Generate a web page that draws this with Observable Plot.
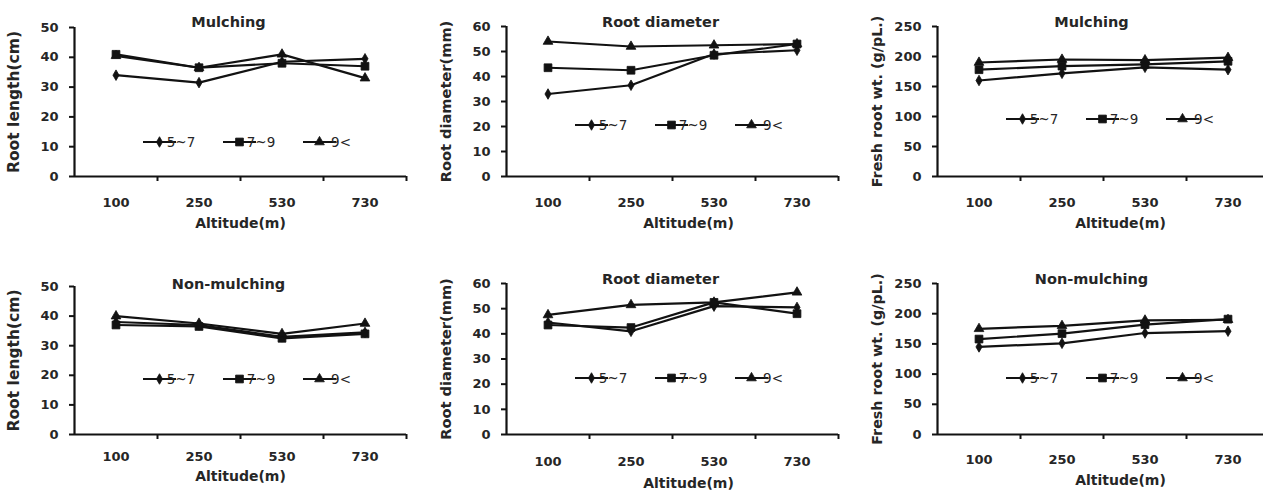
<!DOCTYPE html>
<html>
<head>
<meta charset="utf-8">
<script src="https://cdn.jsdelivr.net/npm/d3@7"></script>
<script src="https://cdn.jsdelivr.net/npm/@observablehq/plot@0.6"></script>
<style>
  html, body { margin: 0; padding: 0; background: #fff; }
  #figure { position: relative; width: 1263px; height: 493px; overflow: hidden; background: #fff; }
  .panel { position: absolute; width: 420px; }
  .panel svg { max-width: none !important; display: block; }
</style>
</head>
<body>
<div id="figure"></div>
<script>
// Altitude categories along every x axis
const altitudes = ["100", "250", "530", "730"];
// Root-size groups (legend entries) and their marker shapes
const groups = ["5~7", "7~9", "9<"];
const groupSymbols = ["diamond", "square", "triangle"];
const groupRadius = [3.2, 4.4, 3.6];

// Values per group, in the order of `groups`, one value per altitude
const rootLengthMulching = [
  [34, 31.5, 38.5, 39.5],
  [41, 36.5, 38, 37],
  [40.5, 36.5, 41, 33]
];
const rootDiameterMulching = [
  [33, 36.5, 49, 50.5],
  [43.5, 42.5, 48.5, 53],
  [54, 52, 52.5, 53]
];
const freshWeightMulching = [
  [160, 172, 182, 178],
  [178, 184, 187, 192],
  [190, 195, 194, 198]
];
const rootLengthNonMulching = [
  [38, 37, 33, 34.5],
  [37, 36.5, 32.5, 34],
  [40, 37.5, 34, 37.5]
];
const rootDiameterNonMulching = [
  [44.5, 41, 51, 50.5],
  [43.5, 42.5, 52.5, 48],
  [47.5, 51.5, 52.5, 56.5]
];
const freshWeightNonMulching = [
  [145, 151, 168, 171],
  [158, 167, 182, 191],
  [175, 180, 189, 190]
];

// Axis ranges and tick steps
const lengthTicks = [0, 10, 20, 30, 40, 50];
const diameterTicks = [0, 10, 20, 30, 40, 50, 60];
const weightTicks = [0, 50, 100, 150, 200, 250];

const panels = [
  {values: rootLengthMulching, title: "Mulching", ylabel: "Root length(cm)", ylabelSize: 15.5, ticks: lengthTicks,
   left: 0, top: 0, height: 246, mt: 27, mb: 70, titleDy: -11, xlabDx: 0, xlabDy: 51, tickPad: 21, legendY: 115},
  {values: rootDiameterMulching, title: "Root diameter", ylabel: "Root diameter(mm)", ylabelSize: 14.6, ticks: diameterTicks,
   left: 432, top: 0, height: 246, mt: 26, mb: 70, titleDy: -10, xlabDx: 16, xlabDy: 51, tickPad: 21, legendY: 99},
  {values: freshWeightMulching, title: "Mulching", ylabel: "Fresh root wt. (g/pL.)", ylabelSize: 14.3, ticks: weightTicks,
   left: 863, top: 0, height: 246, mt: 26, mb: 70, titleDy: -10, xlabDx: 17, xlabDy: 51, tickPad: 21, legendY: 93},
  {values: rootLengthNonMulching, title: "Non-mulching", ylabel: "Root length(cm)", ylabelSize: 15.5, ticks: lengthTicks,
   left: 0, top: 256, height: 237, mt: 30, mb: 59, titleDy: -8, xlabDx: 0, xlabDy: 46, tickPad: 17, legendY: 93},
  {values: rootDiameterNonMulching, title: "Root diameter", ylabel: "Root diameter(mm)", ylabelSize: 14.6, ticks: diameterTicks,
   left: 432, top: 256, height: 237, mt: 27, mb: 59, titleDy: -10, xlabDx: 16, xlabDy: 53, tickPad: 22, legendY: 95},
  {values: freshWeightNonMulching, title: "Non-mulching", ylabel: "Fresh root wt. (g/pL.)", ylabelSize: 14.3, ticks: weightTicks,
   left: 863, top: 256, height: 237, mt: 27, mb: 59, titleDy: -10, xlabDx: 17, xlabDy: 50, tickPad: 20, legendY: 95}
];

const ink = "#121212";
const textInk = "#262626";
const font = "DejaVu Sans";

function drawPanel(p) {
  const rows = [];
  p.values.forEach((vals, g) => {
    vals.forEach((v, i) => rows.push({group: groups[g], g, i, altitude: altitudes[i], value: v}));
  });
  const ymax = p.ticks[p.ticks.length - 1];
  const marks = [
    // category labels centred in each altitude band
    Plot.axisX({ticks: altitudes.map((_, i) => i + 0.5), tickSize: 0, tickPadding: p.tickPad,
      tickFormat: (d) => altitudes[Math.round(d - 0.5)], fontSize: 13, fontWeight: "bold", fill: textInk, label: null}),
    // Excel-style tick marks on the band boundaries
    Plot.axisX({ticks: [1, 2, 3, 4], tickSize: 5, tickFormat: () => "", strokeWidth: 2, stroke: ink, label: null}),
    Plot.axisY({ticks: p.ticks, tickSize: 5, tickPadding: 11, fontSize: 13, fontWeight: "bold",
      fill: textInk, strokeWidth: 2, stroke: ink, label: null}),
    Plot.ruleX([0], {stroke: ink, strokeWidth: 2.2}),
    Plot.ruleY([0], {stroke: ink, strokeWidth: 2.2}),
    Plot.lineY(rows, {x: (d) => d.i + 0.5, y: "value", z: "group", stroke: ink, strokeWidth: 2.2}),
    ...groups.map((gName, g) =>
      Plot.dot(rows.filter((d) => d.g === g), {x: (d) => d.i + 0.5, y: "value",
        symbol: () => groupSymbols[g], r: groupRadius[g], fill: ink, stroke: ink, strokeWidth: 0.8})),
    Plot.text([p.title], {frameAnchor: "top", dy: p.titleDy, dx: -12, text: (d) => d,
      fontSize: 14.5, fontWeight: "bold", fill: textInk}),
    Plot.text([p.ylabel], {frameAnchor: "left", textAnchor: "middle", rotate: -90, dx: -60, text: (d) => d,
      fontSize: p.ylabelSize, fontWeight: "bold", fill: textInk}),
    Plot.text(["Altitude(m)"], {frameAnchor: "bottom", dy: p.xlabDy, dx: p.xlabDx, text: (d) => d,
      fontSize: 14, fontWeight: "bold", fill: textInk})
  ];
  const svg = Plot.plot({
    width: 420,
    height: p.height,
    marginLeft: 74,
    marginRight: 14,
    marginTop: p.mt,
    marginBottom: p.mb,
    x: {type: "linear", domain: [0, 4]},
    y: {domain: [0, ymax]},
    style: {fontFamily: font, background: "#fff", overflow: "visible", color: ink},
    marks
  });

  // Legend row: line + marker + label for each group, inside the frame
  const legend = d3.select(svg).append("g")
    .attr("transform", `translate(${74 + 69},${p.mt + p.legendY})`);
  const step = 80;
  const shapes = {diamond: d3.symbolDiamond, square: d3.symbolSquare, triangle: d3.symbolTriangle};
  groups.forEach((gName, g) => {
    const item = legend.append("g").attr("transform", `translate(${g * step},0)`);
    item.append("line").attr("x1", 0).attr("x2", 33).attr("y1", 0).attr("y2", 0)
      .attr("stroke", ink).attr("stroke-width", 2);
    item.append("path").attr("transform", "translate(16.5,0)")
      .attr("d", d3.symbol(shapes[groupSymbols[g]], Math.PI * groupRadius[g] * groupRadius[g])())
      .attr("fill", ink).attr("stroke", ink).attr("stroke-width", 0.8);
    item.append("text").attr("x", 38).attr("y", 0).attr("dy", "0.36em")
      .attr("font-family", font).attr("font-size", 13.5).attr("fill", textInk).text(gName);
  });

  const div = document.createElement("div");
  div.className = "panel";
  div.style.left = p.left + "px";
  div.style.top = p.top + "px";
  div.appendChild(svg);
  document.getElementById("figure").appendChild(div);
}

panels.forEach(drawPanel);
</script>
</body>
</html>
